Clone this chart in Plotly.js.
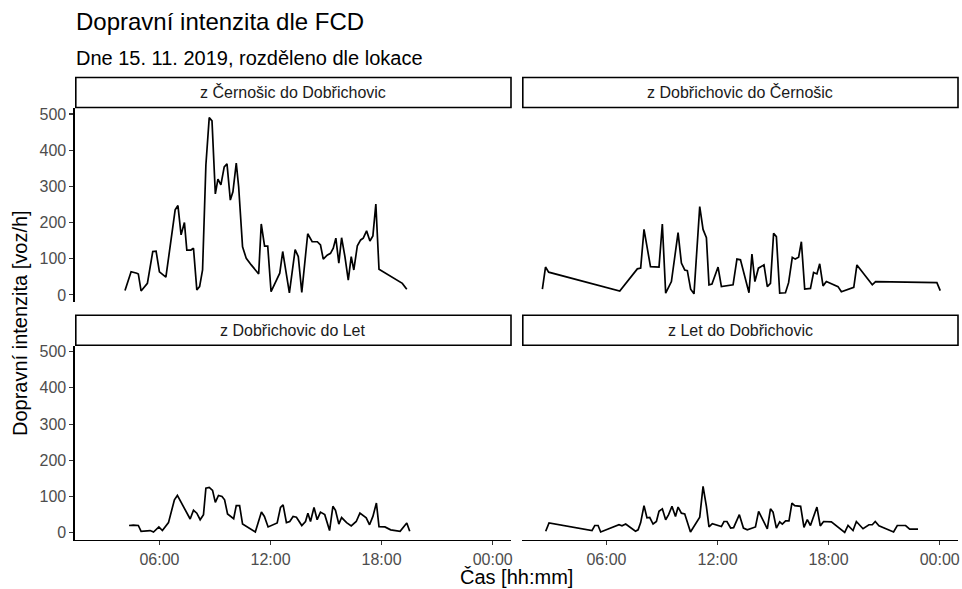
<!DOCTYPE html>
<html>
<head>
<meta charset="utf-8">
<script src="https://cdn.plot.ly/plotly-3.0.1.min.js"></script>
<style>
  html, body { margin: 0; padding: 0; background: #ffffff; }
  #chart { width: 962px; height: 589px; }
</style>
</head>
<body>
<div id="chart"></div>
<script>
// Traffic intensity from floating car data, 15 Nov 2019, one panel per direction.
// Time is stored in decimal hours of the day, intensity in vehicles per hour.

const panelTitles = [
  "z Černošic do Dobřichovic",
  "z Dobřichovic do Černošic",
  "z Dobřichovic do Let",
  "z Let do Dobřichovic"
];

const cerDobHours = [4.14,4.47,4.78,4.86,5.01,5.35,5.64,5.82,6.0,6.35,6.85,7.0,7.17,7.35,7.48,7.7,7.84,8.02,8.17,8.33,8.51,8.69,8.84,9.02,9.16,9.32,9.5,9.65,9.83,9.97,10.15,10.28,10.49,10.69,10.96,11.36,11.5,11.68,11.85,12.03,12.5,12.66,13.02,13.33,13.5,13.69,14.01,14.25,14.53,14.7,14.85,15.06,15.24,15.39,15.53,15.69,15.84,16.02,16.2,16.36,16.5,16.69,16.87,17.01,17.19,17.37,17.53,17.69,17.86,19.12,19.36];
const cerDobFlow  = [12,64,60,58,11,32,120,121,64,49,235,247,166,200,124,124,129,14,23,69,359,490,481,279,320,304,354,362,262,285,364,299,133,101,83,58,196,135,135,9,60,120,6,125,106,7,169,147,147,138,99,110,115,129,157,88,158,106,41,106,69,136,152,157,177,149,163,251,71,32,16];

const dobCerHours = [2.54,2.71,2.88,6.72,7.67,7.85,8.03,8.19,8.38,8.84,9.02,9.2,9.51,9.87,10.05,10.23,10.37,10.55,10.73,11.04,11.22,11.4,11.54,11.7,12.03,12.21,12.84,13.05,13.24,13.7,13.86,14.02,14.21,14.51,14.69,14.86,15.03,15.18,15.36,15.67,15.84,16.04,16.2,16.38,16.53,16.71,17.02,17.19,17.37,17.52,17.7,17.88,18.51,18.69,19.36,19.53,20.36,20.54,23.85,24.03];
const dobCerFlow  = [16,77,63,11,72,74,181,138,78,77,196,5,37,172,88,69,67,16,3,244,181,158,28,30,77,23,28,99,97,6,113,37,74,83,23,32,170,161,5,6,34,104,99,104,147,16,18,62,58,86,25,37,23,9,21,83,28,37,34,12];

const dobLetHours = [4.36,4.59,4.86,5.01,5.5,5.68,5.97,6.16,6.49,6.81,6.97,7.27,7.66,7.84,8.02,8.2,8.38,8.51,8.69,8.87,9.02,9.19,9.38,9.52,9.68,10.01,10.15,10.33,10.49,11.18,11.51,11.67,11.87,12.36,12.54,12.68,12.86,13.04,13.22,13.4,13.69,13.89,14.02,14.16,14.35,14.52,14.7,14.93,15.19,15.37,15.51,15.69,15.84,16.11,16.36,16.63,16.83,17.17,17.35,17.53,17.72,17.86,18.18,18.49,19.0,19.36,19.52];
const dobLetFlow  = [20,21,20,4,6,2,16,6,28,91,103,75,38,62,54,36,50,123,125,117,84,103,100,91,52,39,75,75,24,2,57,45,16,27,70,77,28,31,45,43,20,31,54,31,70,36,57,50,6,73,62,24,42,28,19,31,54,41,22,45,82,17,16,8,4,27,4];

const letDobHours = [2.72,2.9,5.22,5.37,5.55,5.69,6.68,6.84,7.04,7.57,7.71,7.85,8.03,8.19,8.34,8.52,8.7,8.84,9.02,9.2,9.36,9.54,9.73,9.87,10.05,10.23,10.54,11.04,11.22,11.4,11.54,11.72,12.21,12.35,12.51,12.71,12.87,13.18,13.4,13.61,14.05,14.22,14.69,14.86,15.0,15.18,15.36,15.5,15.68,15.86,16.02,16.17,16.49,16.67,16.85,17.02,17.37,17.55,17.73,18.15,18.87,19.05,19.32,19.5,19.86,20.18,20.36,20.52,20.72,21.51,21.71,22.16,22.38,22.83];
const letDobFlow  = [4,27,6,20,20,2,22,19,24,4,8,28,75,41,42,24,31,59,66,36,50,73,45,71,54,52,2,43,128,73,16,25,17,31,31,13,14,50,13,8,16,59,11,66,57,13,30,24,33,33,82,75,73,15,36,20,71,19,31,30,1,20,6,31,11,22,22,31,19,2,20,20,10,10];

const timeTickVals  = [6, 12, 18, 24];
const timeTickText  = ["06:00", "12:00", "18:00", "00:00"];
const flowTickVals  = [0, 100, 200, 300, 400, 500];

// ---- geometry (pixels) ----
const W = 962, H = 589;
const px = v => v / W;
const py = v => 1 - v / H;

const colsPx = [[75, 511], [522, 958]];
const rowsPx = [[108, 302], [345.7, 539.8]];  // plot area top/bottom
const stripH = 30;

const FONT = "Liberation Sans, Arial, sans-serif";
const LINE_W = 1.6;

const series = [
  { x: cerDobHours, y: cerDobFlow },
  { x: dobCerHours, y: dobCerFlow },
  { x: dobLetHours, y: dobLetFlow },
  { x: letDobHours, y: letDobFlow }
];

const traces = series.map((s, i) => ({
  type: "scatter",
  mode: "lines",
  x: s.x,
  y: s.y,
  xaxis: i === 0 ? "x" : "x" + (i + 1),
  yaxis: i === 0 ? "y" : "y" + (i + 1),
  line: { color: "#000000", width: 1.7 },
  hoverinfo: "skip",
  showlegend: false
}));

const layout = {
  width: W,
  height: H,
  margin: { l: 0, r: 0, t: 0, b: 0 },
  paper_bgcolor: "#ffffff",
  plot_bgcolor: "#ffffff",
  font: { family: FONT, color: "#000000" },
  showlegend: false,
  shapes: [],
  annotations: []
};

for (let i = 0; i < 4; i++) {
  const col = i % 2, row = Math.floor(i / 2);
  const sfx = i === 0 ? "" : String(i + 1);
  const isLeft = col === 0, isBottom = row === 1;

  layout["xaxis" + sfx] = {
    domain: [px(colsPx[col][0]), px(colsPx[col][1])],
    anchor: "y" + sfx,
    range: [1.44, 24.99],
    tickvals: timeTickVals,
    ticktext: timeTickText,
    showticklabels: isBottom,
    ticks: isBottom ? "outside" : "",
    ticklen: 4,
    tickwidth: 1.1,
    tickcolor: "#333333",
    tickfont: { family: FONT, size: 16, color: "#4D4D4D" },
    showline: isBottom,
    linecolor: "#000000",
    linewidth: LINE_W,
    showgrid: false,
    zeroline: false,
    fixedrange: true
  };

  layout["yaxis" + sfx] = {
    domain: [py(rowsPx[row][1]), py(rowsPx[row][0])],
    anchor: "x" + sfx,
    range: [-19.5, 516.5],
    tickvals: flowTickVals,
    showticklabels: isLeft,
    ticks: isLeft ? "outside" : "",
    ticklen: 4,
    tickwidth: 1.1,
    tickcolor: "#333333",
    tickfont: { family: FONT, size: 16, color: "#4D4D4D" },
    showline: isLeft,
    linecolor: "#000000",
    linewidth: LINE_W,
    showgrid: false,
    zeroline: false,
    fixedrange: true
  };

  // facet strip
  const sx0 = colsPx[col][0] + 0.8, sx1 = colsPx[col][1];
  const sy1 = rowsPx[row][0] - 0.5, sy0 = sy1 - stripH;
  layout.shapes.push({
    type: "rect", xref: "paper", yref: "paper",
    x0: px(sx0), x1: px(sx1), y0: py(sy1), y1: py(sy0),
    line: { color: "#000000", width: LINE_W },
    fillcolor: "#ffffff", layer: "above"
  });
  layout.annotations.push({
    xref: "paper", yref: "paper",
    x: px((sx0 + sx1) / 2), y: py((sy0 + sy1) / 2),
    xanchor: "center", yanchor: "middle",
    text: panelTitles[i], showarrow: false,
    font: { family: FONT, size: 16, color: "#1A1A1A" }
  });
}

// titles
layout.annotations.push(
  {
    xref: "paper", yref: "paper", x: px(74), y: py(21),
    xanchor: "left", yanchor: "middle", showarrow: false,
    text: "Dopravní intenzita dle FCD",
    font: { family: FONT, size: 24, color: "#000000" }
  },
  {
    xref: "paper", yref: "paper", x: px(74), y: py(58),
    xanchor: "left", yanchor: "middle", showarrow: false,
    text: "Dne 15. 11. 2019, rozděleno dle lokace",
    font: { family: FONT, size: 20, color: "#000000" }
  },
  {
    xref: "paper", yref: "paper", x: px(516.5), y: py(577),
    xanchor: "center", yanchor: "middle", showarrow: false,
    text: "Čas [hh:mm]",
    font: { family: FONT, size: 20, color: "#000000" }
  },
  {
    xref: "paper", yref: "paper", x: px(20), y: py(323),
    xanchor: "center", yanchor: "middle", showarrow: false,
    textangle: -90,
    text: "Dopravní intenzita [voz/h]",
    font: { family: FONT, size: 20, color: "#000000" }
  }
);

Plotly.newPlot("chart", traces, layout, { staticPlot: true, displayModeBar: false });
</script>
</body>
</html>
